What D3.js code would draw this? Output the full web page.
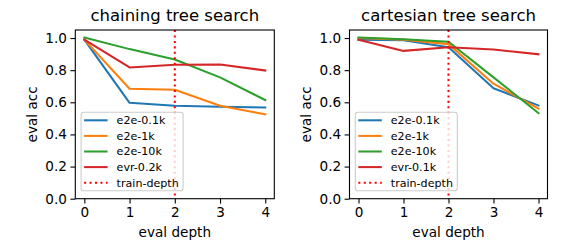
<!DOCTYPE html>
<html><head><meta charset="utf-8">
<script src="https://cdn.jsdelivr.net/npm/d3@7"></script>
<style>
body{margin:0;background:#fff;}
svg text{font-family:"DejaVu Sans",sans-serif;fill:#000;}
</style></head>
<body><svg id="c" width="564" height="246"></svg>
<script>
const depths = [0, 1, 2, 3, 4];
const yTicks = [0.0, 0.2, 0.4, 0.6, 0.8, 1.0];
const trainDepth = 2;
const colors = ["#1f77b4", "#ff7f0e", "#2ca02c", "#d62728"];

const chainTitle = "chaining tree search";
const chainNames = ["e2e-0.1k", "e2e-1k", "e2e-10k", "evr-0.2k"];
const chainE2e01k = [0.99, 0.597, 0.579, 0.572, 0.568];
const chainE2e1k  = [0.99, 0.684, 0.678, 0.579, 0.525];
const chainE2e10k = [1.003, 0.931, 0.866, 0.755, 0.614];
const chainEvr02k = [0.99, 0.817, 0.834, 0.835, 0.798];

const cartTitle = "cartesian tree search";
const cartNames = ["e2e-0.1k", "e2e-1k", "e2e-10k", "evr-0.1k"];
const cartE2e01k = [0.99, 0.986, 0.942, 0.687, 0.580];
const cartE2e1k  = [1.0, 0.99, 0.962, 0.716, 0.560];
const cartE2e10k = [1.003, 0.993, 0.977, 0.755, 0.533];
const cartEvr01k = [0.99, 0.92, 0.943, 0.929, 0.899];

const svg = d3.select("#c");

function panel(left, right, title, names, series) {
  const top = 30, bottom = 198.7;
  const x = d3.scaleLinear().domain([-0.2, 4.2]).range([left, right]);
  const y = d3.scaleLinear().domain([0, 1.05]).range([bottom, top]);
  const g = svg.append("g");
  const clipId = "clip" + Math.round(left);
  g.append("clipPath").attr("id", clipId).append("rect")
    .attr("x", left).attr("y", top).attr("width", right - left).attr("height", bottom - top);

  const line = d3.line().x((d, i) => x(depths[i])).y(d => y(d));
  const lg = g.append("g").attr("clip-path", `url(#${clipId})`);
  series.forEach((s, k) => {
    lg.append("path").attr("d", line(s)).attr("fill", "none")
      .attr("stroke", colors[k]).attr("stroke-width", 2.05)
      .attr("stroke-linecap", "square").attr("stroke-linejoin", "round");
  });
  lg.append("line").attr("x1", x(trainDepth)).attr("x2", x(trainDepth))
    .attr("y1", top).attr("y2", bottom)
    .attr("stroke", "#ff0000").attr("stroke-width", 2.05).attr("stroke-dasharray", "2.05,3.4");

  // axes
  const xa = g.append("g").attr("transform", `translate(0,${bottom})`)
    .call(d3.axisBottom(x).tickValues(depths).tickFormat(d3.format("d")).tickSize(4.9).tickPadding(3.5));
  const ya = g.append("g").attr("transform", `translate(${left},0)`)
    .call(d3.axisLeft(y).tickValues(yTicks).tickFormat(d3.format(".1f")).tickSize(4.9).tickPadding(3.5));
  [xa, ya].forEach(a => {
    a.select(".domain").remove();
    a.selectAll("line").attr("stroke", "#000").attr("stroke-width", 1.1);
    a.selectAll("text").attr("font-size", 13.6).attr("font-family", "DejaVu Sans");
  });
  g.append("rect").attr("x", left).attr("y", top).attr("width", right - left).attr("height", bottom - top)
    .attr("fill", "none").attr("stroke", "#000").attr("stroke-width", 1.1);

  const cx = (left + right) / 2;
  g.append("text").attr("x", cx).attr("y", 20.5).attr("text-anchor", "middle")
    .attr("font-size", 16.5).text(title);
  g.append("text").attr("x", cx).attr("y", 237).attr("text-anchor", "middle")
    .attr("font-size", 13.6).text("eval depth");
  g.append("text").attr("transform", `translate(${left - 43},${(top + bottom) / 2}) rotate(-90)`)
    .attr("text-anchor", "middle").attr("dy", "0.35em").attr("font-size", 13.6).text("eval acc");

  // legend
  const lx = left + 5.8, ly = 112.3, lw = 102, lh = 78.5;
  const leg = g.append("g");
  leg.append("rect").attr("x", lx).attr("y", ly).attr("width", lw).attr("height", lh)
    .attr("rx", 2.8).attr("fill", "#fff").attr("fill-opacity", 0.8)
    .attr("stroke", "#cccccc").attr("stroke-width", 1.1);
  const labels = names.concat(["train-depth"]);
  labels.forEach((n, i) => {
    const ry = ly + 8 + i * 15.6;
    const ln = leg.append("line").attr("x1", lx + 3).attr("x2", lx + 26.5)
      .attr("y1", ry).attr("y2", ry).attr("stroke-width", 2.05);
    if (i < 4) ln.attr("stroke", colors[i]);
    else ln.attr("stroke", "#ff0000").attr("stroke-dasharray", "2.05,3.4");
    leg.append("text").attr("x", lx + 35.5).attr("y", ry).attr("dy", "0.35em")
      .attr("font-size", 11.1).text(n);
  });
}

panel(75.3, 274.3, chainTitle, chainNames, [chainE2e01k, chainE2e1k, chainE2e10k, chainEvr02k]);
panel(349.5, 547.5, cartTitle, cartNames, [cartE2e01k, cartE2e1k, cartE2e10k, cartEvr01k]);
</script></body></html>
